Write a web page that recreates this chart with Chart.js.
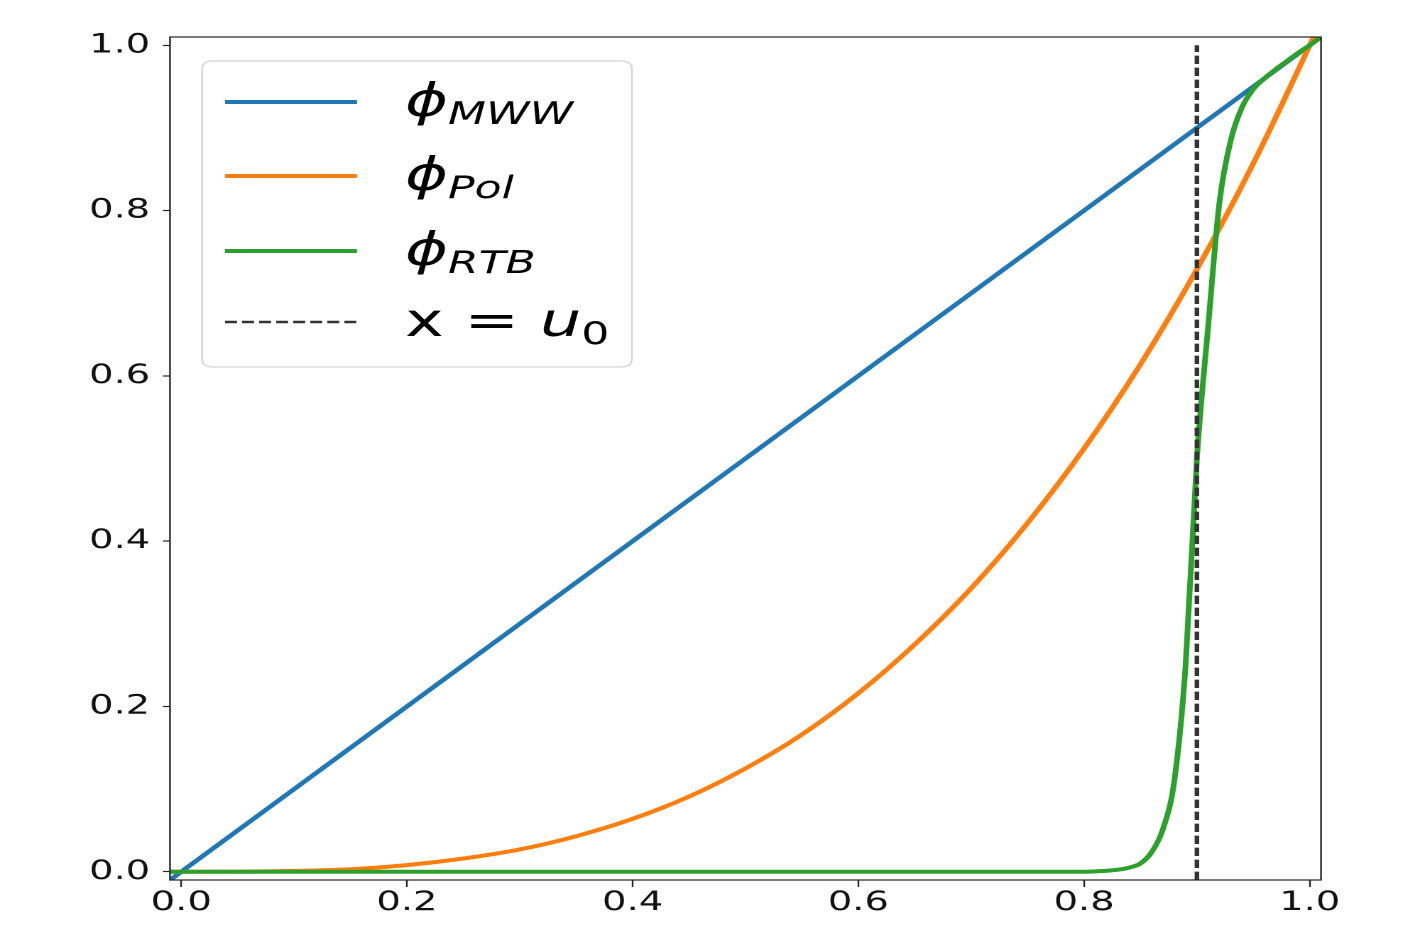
<!DOCTYPE html>
<html>
<head>
<meta charset="utf-8">
<script src="https://cdn.jsdelivr.net/npm/chart.js@4.4.1/dist/chart.umd.min.js"></script>
<style>
  html, body { margin: 0; padding: 0; background: #fff; overflow: hidden; }
  #wrap { position: absolute; left: 0; top: 0; width: 988px; height: 929px;
          transform: scaleX(1.42); transform-origin: 0 0; }
</style>
</head>
<body>
<div id="wrap"><canvas id="c"></canvas></div>
<script>
// ---- axis limits and ticks ----
const xMin = -0.01, xMax = 1.01;
const yMin = -0.01, yMax = 1.01;
const xTicks = [0.0, 0.2, 0.4, 0.6, 0.8, 1.0];
const xTickLabels = ['0.0', '0.2', '0.4', '0.6', '0.8', '1.0'];
const yTicks = [0.0, 0.2, 0.4, 0.6, 0.8, 1.0];
const yTickLabels = ['0.0', '0.2', '0.4', '0.6', '0.8', '1.0'];

// ---- series ----
const mwwX = [-0.01, 1.01];
const mwwY = [-0.01, 1.01];

const polX = [-0.01, 0.0, 0.05, 0.10, 0.15, 0.20, 0.25, 0.30, 0.35, 0.40, 0.45, 0.50,
              0.55, 0.60, 0.65, 0.70, 0.75, 0.80, 0.85, 0.90, 0.95, 1.00, 1.01];
const polY = [0.0, 0.0, 0.0001, 0.001, 0.003, 0.008, 0.016, 0.027, 0.043, 0.064, 0.091, 0.125,
              0.166, 0.216, 0.275, 0.343, 0.422, 0.512, 0.614, 0.729, 0.857, 1.0, 1.03];

const rtbX = [-0.01, 0.80, 0.81, 0.82, 0.83, 0.84, 0.85, 0.86, 0.87, 0.88, 0.89, 0.90, 0.91, 0.92,
              0.93, 0.94, 0.95, 0.96, 0.97, 0.98, 0.99, 1.00, 1.01];
const rtbY = [0.0, 0.0, 0.0005, 0.0012, 0.0025, 0.005, 0.01, 0.024, 0.052, 0.11, 0.25, 0.50, 0.66, 0.81,
              0.885, 0.925, 0.947, 0.96, 0.971, 0.981, 0.991, 1.0, 1.01];

const u0X = [0.9, 0.9];
const u0Y = [-0.01, 1.0];

// legend subscripts
const seriesNames = ['MWW', 'Pol', 'RTB'];

const colors = { mww: '#1f77b4', pol: '#ff7f0e', rtb: '#2ca02c', u0: '#333333' };

function pts(xs, ys) { return xs.map((x, i) => ({ x: x, y: ys[i] })); }

const FONT = '"DejaVu Sans", "Liberation Sans", sans-serif';

const framePlugin = {
  id: 'frame',
  afterDatasetsDraw(chart) {
    const { ctx, chartArea: a } = chart;
    ctx.save();
    ctx.strokeStyle = '#222';
    ctx.lineWidth = 1.2;
    ctx.strokeRect(a.left, a.top, a.right - a.left, a.bottom - a.top);
    ctx.restore();
  }
};

const legendPlugin = {
  id: 'mplLegend',
  afterDraw(chart) {
    const ctx = chart.ctx;
    ctx.save();
    const L = 142.3, T = 61, R = 445, B = 367, r = 8;
    ctx.beginPath();
    ctx.moveTo(L + r, T);
    ctx.lineTo(R - r, T); ctx.quadraticCurveTo(R, T, R, T + r);
    ctx.lineTo(R, B - r); ctx.quadraticCurveTo(R, B, R - r, B);
    ctx.lineTo(L + r, B); ctx.quadraticCurveTo(L, B, L, B - r);
    ctx.lineTo(L, T + r); ctx.quadraticCurveTo(L, T, L + r, T);
    ctx.closePath();
    ctx.fillStyle = 'rgba(255,255,255,0.8)';
    ctx.fill();
    ctx.strokeStyle = '#d4d4d4';
    ctx.lineWidth = 1.2;
    ctx.stroke();

    const rows = [102, 176, 251, 322];
    const x0 = 158.5, x1 = 251.4, tx = 285.2;
    const ds = chart.data.datasets;
    const entries = [
      { color: ds[0].borderColor, w: 4, dash: [], parts: [['ϕ', true, 46, 0], [seriesNames[0], true, 31, 8]] },
      { color: ds[1].borderColor, w: 4, dash: [], parts: [['ϕ', true, 46, 0], [seriesNames[1], true, 31, 8]] },
      { color: ds[2].borderColor, w: 4, dash: [], parts: [['ϕ', true, 46, 0], [seriesNames[2], true, 31, 8]] },
      { color: ds[3].borderColor, w: 2.6, dash: [8.4, 3.6], parts: [['x = ', false, 46, 0], ['u', true, 46, 0], ['0', false, 31, 8]] }
    ];
    entries.forEach((e, i) => {
      const y = rows[i];
      ctx.beginPath();
      ctx.setLineDash(e.dash);
      ctx.strokeStyle = e.color;
      ctx.lineWidth = e.w;
      ctx.moveTo(x0, y); ctx.lineTo(x1, y);
      ctx.stroke();
      ctx.setLineDash([]);
      let x = tx;
      const base = y + 14;
      ctx.fillStyle = '#000';
      ctx.textBaseline = 'alphabetic';
      ctx.textAlign = 'left';
      e.parts.forEach(p => {
        ctx.font = (p[1] ? 'oblique ' : '') + p[2] + 'px ' + FONT;
        ctx.fillText(p[0], x, base + p[3]);
        x += ctx.measureText(p[0]).width;
      });
    });
    ctx.restore();
  }
};

new Chart(document.getElementById('c'), {
  type: 'line',
  data: {
    datasets: [
      { label: 'ϕ_MWW', data: pts(mwwX, mwwY), borderColor: colors.mww, borderWidth: 4,
        pointRadius: 0, tension: 0, order: 4 },
      { label: 'ϕ_Pol', data: pts(polX, polY), borderColor: colors.pol, borderWidth: 4,
        pointRadius: 0, cubicInterpolationMode: 'monotone', order: 3 },
      { label: 'ϕ_RTB', data: pts(rtbX, rtbY), borderColor: colors.rtb, borderWidth: 4,
        pointRadius: 0, cubicInterpolationMode: 'monotone', order: 2 },
      { label: 'x = u0', data: pts(u0X, u0Y), borderColor: colors.u0, borderWidth: 3.2,
        borderDash: [8.4, 3.6], pointRadius: 0, tension: 0, order: 1 }
    ]
  },
  options: {
    responsive: true,
    maintainAspectRatio: false,
    animation: false,
    devicePixelRatio: 2,
    layout: { padding: { top: 37, right: 57.7, left: 0, bottom: 0 } },
    plugins: { legend: { display: false }, tooltip: { enabled: false } },
    scales: {
      x: {
        type: 'linear', min: xMin, max: xMax,
        afterBuildTicks(s) { s.ticks = xTicks.map(v => ({ value: v })); },
        afterFit(s) { s.height = 49; },
        ticks: {
          autoSkip: false, maxRotation: 0, padding: 0, color: '#111',
          font: { family: FONT, size: 27 },
          callback: (v, i) => xTickLabels[i]
        },
        grid: { drawOnChartArea: false, drawTicks: true, tickLength: 7, tickColor: '#222', tickWidth: 1.2 },
        border: { display: false }
      },
      y: {
        type: 'linear', min: yMin, max: yMax,
        afterBuildTicks(s) { s.ticks = yTicks.map(v => ({ value: v })); },
        afterFit(s) { s.width = 119.7; },
        ticks: {
          autoSkip: false, padding: 9, color: '#111',
          font: { family: FONT, size: 27 },
          callback: (v, i) => yTickLabels[i]
        },
        grid: { drawOnChartArea: false, drawTicks: true, tickLength: 5, tickColor: '#222', tickWidth: 1.2 },
        border: { display: false }
      }
    }
  },
  plugins: [framePlugin, legendPlugin]
});
</script>
</body>
</html>
